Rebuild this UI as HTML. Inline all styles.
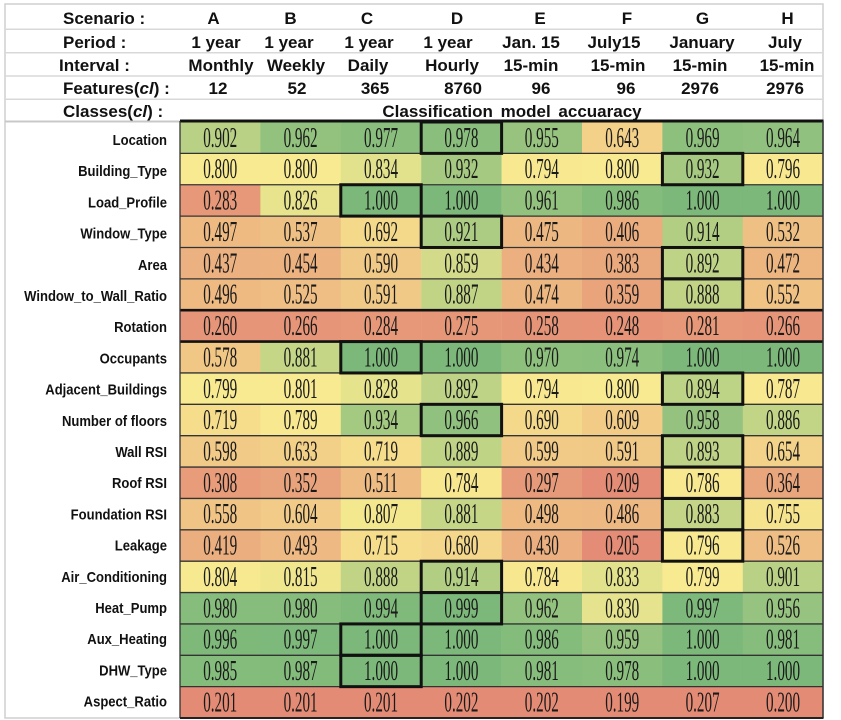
<!DOCTYPE html>
<html><head><meta charset="utf-8"><style>
html,body{margin:0;padding:0;background:#fff;}
svg{display:block}
.h{font:bold 17px "Liberation Sans",sans-serif;fill:#111}
.m{text-anchor:middle}
.l{font:bold 14.5px "Liberation Sans",sans-serif;text-anchor:end;fill:#111}
.n{font:28px "Liberation Serif",serif;text-anchor:middle;fill:#1a1a1a}
</style></head><body>
<svg width="841" height="720" viewBox="0 0 841 720" xmlns="http://www.w3.org/2000/svg">
<rect width="841" height="720" fill="#fff"/>
<!-- frame & header lines -->
<rect x="5" y="4" width="818" height="714" fill="none" stroke="#cfcfcf" stroke-width="1.5"/>
<g stroke="#d8d8d8" stroke-width="1.5">
<line x1="5" y1="29.3" x2="823" y2="29.3"/>
<line x1="5" y1="52.7" x2="823" y2="52.7"/>
<line x1="5" y1="76" x2="823" y2="76"/>
<line x1="5" y1="99.3" x2="823" y2="99.3"/>
</g>
<line x1="5" y1="121.5" x2="180" y2="121.5" stroke="#c8c8c8" stroke-width="2"/>

<!-- header text -->
<text class="h" x="63" y="24">Scenario :</text>
<g class="h m">
<text x="213.5" y="24">A</text><text x="290.5" y="24">B</text><text x="367" y="24">C</text><text x="457" y="24">D</text>
<text x="540" y="24">E</text><text x="627" y="24">F</text><text x="702.5" y="24">G</text><text x="787.5" y="24">H</text>
</g>
<text class="h" x="63" y="48">Period :</text>
<g class="h m">
<text x="216" y="48">1 year</text><text x="289" y="48">1 year</text><text x="369" y="48">1 year</text><text x="448" y="48">1 year</text>
<text x="531" y="48">Jan. 15</text><text x="614" y="48">July15</text><text x="702" y="48">January</text><text x="785" y="48">July</text>
</g>
<text class="h" x="59" y="71">Interval :</text>
<g class="h m">
<text x="221" y="71">Monthly</text><text x="296" y="71">Weekly</text><text x="368" y="71">Daily</text><text x="452" y="71">Hourly</text>
<text x="531" y="71">15-min</text><text x="618" y="71">15-min</text><text x="700" y="71">15-min</text><text x="787" y="71">15-min</text>
</g>
<text class="h" x="63" y="94">Features(<tspan font-style="italic">cl</tspan>) :</text>
<g class="h m">
<text x="218" y="94">12</text><text x="297" y="94">52</text><text x="375" y="94">365</text><text x="463" y="94">8760</text>
<text x="541" y="94">96</text><text x="626" y="94">96</text><text x="700" y="94">2976</text><text x="785" y="94">2976</text>
</g>
<text class="h" x="63" y="117">Classes(<tspan font-style="italic">cl</tspan>) :</text>
<text class="h m" x="512" y="117" word-spacing="3">Classification model accuaracy</text>

<!-- row labels -->
<g class="l">
<text transform="translate(167,145) scale(.9,1)">Location</text>
<text transform="translate(167,176.2) scale(.9,1)">Building_Type</text>
<text transform="translate(167,207.4) scale(.9,1)">Load_Profile</text>
<text transform="translate(167,238.6) scale(.9,1)">Window_Type</text>
<text transform="translate(167,269.8) scale(.9,1)">Area</text>
<text transform="translate(167,301) scale(.9,1)">Window_to_Wall_Ratio</text>
<text transform="translate(167,332.2) scale(.9,1)">Rotation</text>
<text transform="translate(167,363.4) scale(.9,1)">Occupants</text>
<text transform="translate(167,394.6) scale(.9,1)">Adjacent_Buildings</text>
<text transform="translate(167,425.8) scale(.9,1)">Number of floors</text>
<text transform="translate(167,457) scale(.9,1)">Wall RSI</text>
<text transform="translate(167,488.2) scale(.9,1)">Roof RSI</text>
<text transform="translate(167,519.4) scale(.9,1)">Foundation RSI</text>
<text transform="translate(167,550.6) scale(.9,1)">Leakage</text>
<text transform="translate(167,581.8) scale(.9,1)">Air_Conditioning</text>
<text transform="translate(167,613) scale(.9,1)">Heat_Pump</text>
<text transform="translate(167,644.2) scale(.9,1)">Aux_Heating</text>
<text transform="translate(167,675.4) scale(.9,1)">DHW_Type</text>
<text transform="translate(167,706.6) scale(.9,1)">Aspect_Ratio</text>
</g>

<!-- Row 0 Location -->
<g transform="translate(0,122)">
<rect x="180" width="80.6" height="31.6" fill="rgb(184,209,133)"/>
<rect x="260.4" width="80.6" height="31.6" fill="rgb(147,194,126)"/>
<rect x="340.8" width="80.6" height="31.6" fill="rgb(137,190,125)"/>
<rect x="421.2" width="80.6" height="31.6" fill="rgb(137,190,124)"/>
<rect x="501.6" width="80.6" height="31.6" fill="rgb(151,195,127)"/>
<rect x="582" width="80.6" height="31.6" fill="rgb(243,209,137)"/>
<rect x="662.4" width="80.6" height="31.6" fill="rgb(142,192,125)"/>
<rect x="742.8" width="80.4" height="31.6" fill="rgb(145,193,126)"/>
<g class="n">
<text transform="translate(220.2,24.8) scale(.54,1)">0.902</text>
<text transform="translate(300.6,24.8) scale(.54,1)">0.962</text>
<text transform="translate(381,24.8) scale(.54,1)">0.977</text>
<text transform="translate(461.4,24.8) scale(.54,1)">0.978</text>
<text transform="translate(541.8,24.8) scale(.54,1)">0.955</text>
<text transform="translate(622.2,24.8) scale(.54,1)">0.643</text>
<text transform="translate(702.6,24.8) scale(.54,1)">0.969</text>
<text transform="translate(783,24.8) scale(.54,1)">0.964</text>
</g></g>

<!-- Row 1 Building_Type -->
<g transform="translate(0,153.37)">
<rect x="180" width="80.6" height="31.6" fill="rgb(248,234,144)"/>
<rect x="260.4" width="80.6" height="31.6" fill="rgb(248,234,144)"/>
<rect x="340.8" width="80.6" height="31.6" fill="rgb(227,226,140)"/>
<rect x="421.2" width="80.6" height="31.6" fill="rgb(166,201,129)"/>
<rect x="501.6" width="80.6" height="31.6" fill="rgb(248,233,144)"/>
<rect x="582" width="80.6" height="31.6" fill="rgb(248,234,144)"/>
<rect x="662.4" width="80.6" height="31.6" fill="rgb(166,201,129)"/>
<rect x="742.8" width="80.4" height="31.6" fill="rgb(248,233,144)"/>
<g class="n">
<text transform="translate(220.2,24.8) scale(.54,1)">0.800</text>
<text transform="translate(300.6,24.8) scale(.54,1)">0.800</text>
<text transform="translate(381,24.8) scale(.54,1)">0.834</text>
<text transform="translate(461.4,24.8) scale(.54,1)">0.932</text>
<text transform="translate(541.8,24.8) scale(.54,1)">0.794</text>
<text transform="translate(622.2,24.8) scale(.54,1)">0.800</text>
<text transform="translate(702.6,24.8) scale(.54,1)">0.932</text>
<text transform="translate(783,24.8) scale(.54,1)">0.796</text>
</g></g>

<!-- Row 2 Load_Profile -->
<g transform="translate(0,184.74)">
<rect x="180" width="80.6" height="31.6" fill="rgb(231,152,121)"/>
<rect x="260.4" width="80.6" height="31.6" fill="rgb(232,228,141)"/>
<rect x="340.8" width="80.6" height="31.6" fill="rgb(123,184,122)"/>
<rect x="421.2" width="80.6" height="31.6" fill="rgb(123,184,122)"/>
<rect x="501.6" width="80.6" height="31.6" fill="rgb(147,194,126)"/>
<rect x="582" width="80.6" height="31.6" fill="rgb(132,188,124)"/>
<rect x="662.4" width="80.6" height="31.6" fill="rgb(123,184,122)"/>
<rect x="742.8" width="80.4" height="31.6" fill="rgb(123,184,122)"/>
<g class="n">
<text transform="translate(220.2,24.8) scale(.54,1)">0.283</text>
<text transform="translate(300.6,24.8) scale(.54,1)">0.826</text>
<text transform="translate(381,24.8) scale(.54,1)">1.000</text>
<text transform="translate(461.4,24.8) scale(.54,1)">1.000</text>
<text transform="translate(541.8,24.8) scale(.54,1)">0.961</text>
<text transform="translate(622.2,24.8) scale(.54,1)">0.986</text>
<text transform="translate(702.6,24.8) scale(.54,1)">1.000</text>
<text transform="translate(783,24.8) scale(.54,1)">1.000</text>
</g></g>

<!-- Row 3 Window_Type -->
<g transform="translate(0,216.11)">
<rect x="180" width="80.6" height="31.6" fill="rgb(238,186,130)"/>
<rect x="260.4" width="80.6" height="31.6" fill="rgb(239,192,132)"/>
<rect x="340.8" width="80.6" height="31.6" fill="rgb(244,217,139)"/>
<rect x="421.2" width="80.6" height="31.6" fill="rgb(172,204,131)"/>
<rect x="501.6" width="80.6" height="31.6" fill="rgb(237,183,129)"/>
<rect x="582" width="80.6" height="31.6" fill="rgb(235,172,126)"/>
<rect x="662.4" width="80.6" height="31.6" fill="rgb(177,206,131)"/>
<rect x="742.8" width="80.4" height="31.6" fill="rgb(239,192,132)"/>
<g class="n">
<text transform="translate(220.2,24.8) scale(.54,1)">0.497</text>
<text transform="translate(300.6,24.8) scale(.54,1)">0.537</text>
<text transform="translate(381,24.8) scale(.54,1)">0.692</text>
<text transform="translate(461.4,24.8) scale(.54,1)">0.921</text>
<text transform="translate(541.8,24.8) scale(.54,1)">0.475</text>
<text transform="translate(622.2,24.8) scale(.54,1)">0.406</text>
<text transform="translate(702.6,24.8) scale(.54,1)">0.914</text>
<text transform="translate(783,24.8) scale(.54,1)">0.532</text>
</g></g>

<!-- Row 4 Area -->
<g transform="translate(0,247.48)">
<rect x="180" width="80.6" height="31.6" fill="rgb(236,177,128)"/>
<rect x="260.4" width="80.6" height="31.6" fill="rgb(236,179,128)"/>
<rect x="340.8" width="80.6" height="31.6" fill="rgb(241,201,135)"/>
<rect x="421.2" width="80.6" height="31.6" fill="rgb(211,219,138)"/>
<rect x="501.6" width="80.6" height="31.6" fill="rgb(236,176,128)"/>
<rect x="582" width="80.6" height="31.6" fill="rgb(234,168,125)"/>
<rect x="662.4" width="80.6" height="31.6" fill="rgb(190,211,134)"/>
<rect x="742.8" width="80.4" height="31.6" fill="rgb(237,182,129)"/>
<g class="n">
<text transform="translate(220.2,24.8) scale(.54,1)">0.437</text>
<text transform="translate(300.6,24.8) scale(.54,1)">0.454</text>
<text transform="translate(381,24.8) scale(.54,1)">0.590</text>
<text transform="translate(461.4,24.8) scale(.54,1)">0.859</text>
<text transform="translate(541.8,24.8) scale(.54,1)">0.434</text>
<text transform="translate(622.2,24.8) scale(.54,1)">0.383</text>
<text transform="translate(702.6,24.8) scale(.54,1)">0.892</text>
<text transform="translate(783,24.8) scale(.54,1)">0.472</text>
</g></g>

<!-- Row 5 WWR -->
<g transform="translate(0,278.85)">
<rect x="180" width="80.6" height="31.6" fill="rgb(238,186,130)"/>
<rect x="260.4" width="80.6" height="31.6" fill="rgb(239,190,132)"/>
<rect x="340.8" width="80.6" height="31.6" fill="rgb(241,201,135)"/>
<rect x="421.2" width="80.6" height="31.6" fill="rgb(193,212,134)"/>
<rect x="501.6" width="80.6" height="31.6" fill="rgb(237,183,129)"/>
<rect x="582" width="80.6" height="31.6" fill="rgb(233,164,124)"/>
<rect x="662.4" width="80.6" height="31.6" fill="rgb(193,212,134)"/>
<rect x="742.8" width="80.4" height="31.6" fill="rgb(240,195,133)"/>
<g class="n">
<text transform="translate(220.2,24.8) scale(.54,1)">0.496</text>
<text transform="translate(300.6,24.8) scale(.54,1)">0.525</text>
<text transform="translate(381,24.8) scale(.54,1)">0.591</text>
<text transform="translate(461.4,24.8) scale(.54,1)">0.887</text>
<text transform="translate(541.8,24.8) scale(.54,1)">0.474</text>
<text transform="translate(622.2,24.8) scale(.54,1)">0.359</text>
<text transform="translate(702.6,24.8) scale(.54,1)">0.888</text>
<text transform="translate(783,24.8) scale(.54,1)">0.552</text>
</g></g>

<!-- Row 6 Rotation -->
<g transform="translate(0,310.22)">
<rect x="180" width="80.6" height="31.6" fill="rgb(230,149,120)"/>
<rect x="260.4" width="80.6" height="31.6" fill="rgb(230,149,120)"/>
<rect x="340.8" width="80.6" height="31.6" fill="rgb(231,152,121)"/>
<rect x="421.2" width="80.6" height="31.6" fill="rgb(230,151,120)"/>
<rect x="501.6" width="80.6" height="31.6" fill="rgb(230,148,120)"/>
<rect x="582" width="80.6" height="31.6" fill="rgb(230,147,119)"/>
<rect x="662.4" width="80.6" height="31.6" fill="rgb(231,152,121)"/>
<rect x="742.8" width="80.4" height="31.6" fill="rgb(230,149,120)"/>
<g class="n">
<text transform="translate(220.2,24.8) scale(.54,1)">0.260</text>
<text transform="translate(300.6,24.8) scale(.54,1)">0.266</text>
<text transform="translate(381,24.8) scale(.54,1)">0.284</text>
<text transform="translate(461.4,24.8) scale(.54,1)">0.275</text>
<text transform="translate(541.8,24.8) scale(.54,1)">0.258</text>
<text transform="translate(622.2,24.8) scale(.54,1)">0.248</text>
<text transform="translate(702.6,24.8) scale(.54,1)">0.281</text>
<text transform="translate(783,24.8) scale(.54,1)">0.266</text>
</g></g>

<!-- Row 7 Occupants -->
<g transform="translate(0,341.59)">
<rect x="180" width="80.6" height="31.6" fill="rgb(241,199,134)"/>
<rect x="260.4" width="80.6" height="31.6" fill="rgb(197,214,135)"/>
<rect x="340.8" width="80.6" height="31.6" fill="rgb(123,184,122)"/>
<rect x="421.2" width="80.6" height="31.6" fill="rgb(123,184,122)"/>
<rect x="501.6" width="80.6" height="31.6" fill="rgb(142,192,125)"/>
<rect x="582" width="80.6" height="31.6" fill="rgb(139,191,125)"/>
<rect x="662.4" width="80.6" height="31.6" fill="rgb(123,184,122)"/>
<rect x="742.8" width="80.4" height="31.6" fill="rgb(123,184,122)"/>
<g class="n">
<text transform="translate(220.2,24.8) scale(.54,1)">0.578</text>
<text transform="translate(300.6,24.8) scale(.54,1)">0.881</text>
<text transform="translate(381,24.8) scale(.54,1)">1.000</text>
<text transform="translate(461.4,24.8) scale(.54,1)">1.000</text>
<text transform="translate(541.8,24.8) scale(.54,1)">0.970</text>
<text transform="translate(622.2,24.8) scale(.54,1)">0.974</text>
<text transform="translate(702.6,24.8) scale(.54,1)">1.000</text>
<text transform="translate(783,24.8) scale(.54,1)">1.000</text>
</g></g>

<!-- Row 8 Adjacent -->
<g transform="translate(0,372.96)">
<rect x="180" width="80.6" height="31.6" fill="rgb(248,234,144)"/>
<rect x="260.4" width="80.6" height="31.6" fill="rgb(247,234,144)"/>
<rect x="340.8" width="80.6" height="31.6" fill="rgb(230,227,141)"/>
<rect x="421.2" width="80.6" height="31.6" fill="rgb(190,211,134)"/>
<rect x="501.6" width="80.6" height="31.6" fill="rgb(248,233,144)"/>
<rect x="582" width="80.6" height="31.6" fill="rgb(248,234,144)"/>
<rect x="662.4" width="80.6" height="31.6" fill="rgb(189,211,134)"/>
<rect x="742.8" width="80.4" height="31.6" fill="rgb(248,232,143)"/>
<g class="n">
<text transform="translate(220.2,24.8) scale(.54,1)">0.799</text>
<text transform="translate(300.6,24.8) scale(.54,1)">0.801</text>
<text transform="translate(381,24.8) scale(.54,1)">0.828</text>
<text transform="translate(461.4,24.8) scale(.54,1)">0.892</text>
<text transform="translate(541.8,24.8) scale(.54,1)">0.794</text>
<text transform="translate(622.2,24.8) scale(.54,1)">0.800</text>
<text transform="translate(702.6,24.8) scale(.54,1)">0.894</text>
<text transform="translate(783,24.8) scale(.54,1)">0.787</text>
</g></g>

<!-- Row 9 Number of floors -->
<g transform="translate(0,404.33)">
<rect x="180" width="80.6" height="31.6" fill="rgb(245,221,140)"/>
<rect x="260.4" width="80.6" height="31.6" fill="rgb(248,232,143)"/>
<rect x="340.8" width="80.6" height="31.6" fill="rgb(164,201,129)"/>
<rect x="421.2" width="80.6" height="31.6" fill="rgb(144,193,126)"/>
<rect x="501.6" width="80.6" height="31.6" fill="rgb(244,217,139)"/>
<rect x="582" width="80.6" height="31.6" fill="rgb(242,204,135)"/>
<rect x="662.4" width="80.6" height="31.6" fill="rgb(149,195,127)"/>
<rect x="742.8" width="80.4" height="31.6" fill="rgb(194,213,135)"/>
<g class="n">
<text transform="translate(220.2,24.8) scale(.54,1)">0.719</text>
<text transform="translate(300.6,24.8) scale(.54,1)">0.789</text>
<text transform="translate(381,24.8) scale(.54,1)">0.934</text>
<text transform="translate(461.4,24.8) scale(.54,1)">0.966</text>
<text transform="translate(541.8,24.8) scale(.54,1)">0.690</text>
<text transform="translate(622.2,24.8) scale(.54,1)">0.609</text>
<text transform="translate(702.6,24.8) scale(.54,1)">0.958</text>
<text transform="translate(783,24.8) scale(.54,1)">0.886</text>
</g></g>

<!-- Row 10 Wall RSI -->
<g transform="translate(0,435.7)">
<rect x="180" width="80.6" height="31.6" fill="rgb(241,202,135)"/>
<rect x="260.4" width="80.6" height="31.6" fill="rgb(242,208,136)"/>
<rect x="340.8" width="80.6" height="31.6" fill="rgb(245,221,140)"/>
<rect x="421.2" width="80.6" height="31.6" fill="rgb(192,212,134)"/>
<rect x="501.6" width="80.6" height="31.6" fill="rgb(241,202,135)"/>
<rect x="582" width="80.6" height="31.6" fill="rgb(241,201,135)"/>
<rect x="662.4" width="80.6" height="31.6" fill="rgb(190,211,134)"/>
<rect x="742.8" width="80.4" height="31.6" fill="rgb(243,211,137)"/>
<g class="n">
<text transform="translate(220.2,24.8) scale(.54,1)">0.598</text>
<text transform="translate(300.6,24.8) scale(.54,1)">0.633</text>
<text transform="translate(381,24.8) scale(.54,1)">0.719</text>
<text transform="translate(461.4,24.8) scale(.54,1)">0.889</text>
<text transform="translate(541.8,24.8) scale(.54,1)">0.599</text>
<text transform="translate(622.2,24.8) scale(.54,1)">0.591</text>
<text transform="translate(702.6,24.8) scale(.54,1)">0.893</text>
<text transform="translate(783,24.8) scale(.54,1)">0.654</text>
</g></g>

<!-- Row 11 Roof RSI -->
<g transform="translate(0,467.07)">
<rect x="180" width="80.6" height="31.6" fill="rgb(232,156,122)"/>
<rect x="260.4" width="80.6" height="31.6" fill="rgb(233,163,124)"/>
<rect x="340.8" width="80.6" height="31.6" fill="rgb(238,188,131)"/>
<rect x="421.2" width="80.6" height="31.6" fill="rgb(247,231,143)"/>
<rect x="501.6" width="80.6" height="31.6" fill="rgb(231,154,121)"/>
<rect x="582" width="80.6" height="31.6" fill="rgb(228,140,117)"/>
<rect x="662.4" width="80.6" height="31.6" fill="rgb(248,232,143)"/>
<rect x="742.8" width="80.4" height="31.6" fill="rgb(233,165,124)"/>
<g class="n">
<text transform="translate(220.2,24.8) scale(.54,1)">0.308</text>
<text transform="translate(300.6,24.8) scale(.54,1)">0.352</text>
<text transform="translate(381,24.8) scale(.54,1)">0.511</text>
<text transform="translate(461.4,24.8) scale(.54,1)">0.784</text>
<text transform="translate(541.8,24.8) scale(.54,1)">0.297</text>
<text transform="translate(622.2,24.8) scale(.54,1)">0.209</text>
<text transform="translate(702.6,24.8) scale(.54,1)">0.786</text>
<text transform="translate(783,24.8) scale(.54,1)">0.364</text>
</g></g>

<!-- Row 12 Foundation RSI -->
<g transform="translate(0,498.44)">
<rect x="180" width="80.6" height="31.6" fill="rgb(240,196,133)"/>
<rect x="260.4" width="80.6" height="31.6" fill="rgb(241,203,135)"/>
<rect x="340.8" width="80.6" height="31.6" fill="rgb(244,232,143)"/>
<rect x="421.2" width="80.6" height="31.6" fill="rgb(197,214,135)"/>
<rect x="501.6" width="80.6" height="31.6" fill="rgb(238,186,130)"/>
<rect x="582" width="80.6" height="31.6" fill="rgb(238,184,130)"/>
<rect x="662.4" width="80.6" height="31.6" fill="rgb(196,213,135)"/>
<rect x="742.8" width="80.4" height="31.6" fill="rgb(246,227,142)"/>
<g class="n">
<text transform="translate(220.2,24.8) scale(.54,1)">0.558</text>
<text transform="translate(300.6,24.8) scale(.54,1)">0.604</text>
<text transform="translate(381,24.8) scale(.54,1)">0.807</text>
<text transform="translate(461.4,24.8) scale(.54,1)">0.881</text>
<text transform="translate(541.8,24.8) scale(.54,1)">0.498</text>
<text transform="translate(622.2,24.8) scale(.54,1)">0.486</text>
<text transform="translate(702.6,24.8) scale(.54,1)">0.883</text>
<text transform="translate(783,24.8) scale(.54,1)">0.755</text>
</g></g>

<!-- Row 13 Leakage -->
<g transform="translate(0,529.81)">
<rect x="180" width="80.6" height="31.6" fill="rgb(235,174,127)"/>
<rect x="260.4" width="80.6" height="31.6" fill="rgb(238,185,130)"/>
<rect x="340.8" width="80.6" height="31.6" fill="rgb(245,221,140)"/>
<rect x="421.2" width="80.6" height="31.6" fill="rgb(244,215,139)"/>
<rect x="501.6" width="80.6" height="31.6" fill="rgb(236,175,127)"/>
<rect x="582" width="80.6" height="31.6" fill="rgb(228,140,117)"/>
<rect x="662.4" width="80.6" height="31.6" fill="rgb(248,233,144)"/>
<rect x="742.8" width="80.4" height="31.6" fill="rgb(239,190,132)"/>
<g class="n">
<text transform="translate(220.2,24.8) scale(.54,1)">0.419</text>
<text transform="translate(300.6,24.8) scale(.54,1)">0.493</text>
<text transform="translate(381,24.8) scale(.54,1)">0.715</text>
<text transform="translate(461.4,24.8) scale(.54,1)">0.680</text>
<text transform="translate(541.8,24.8) scale(.54,1)">0.430</text>
<text transform="translate(622.2,24.8) scale(.54,1)">0.205</text>
<text transform="translate(702.6,24.8) scale(.54,1)">0.796</text>
<text transform="translate(783,24.8) scale(.54,1)">0.526</text>
</g></g>

<!-- Row 14 Air_Conditioning -->
<g transform="translate(0,561.18)">
<rect x="180" width="80.6" height="31.6" fill="rgb(246,233,144)"/>
<rect x="260.4" width="80.6" height="31.6" fill="rgb(239,230,142)"/>
<rect x="340.8" width="80.6" height="31.6" fill="rgb(193,212,134)"/>
<rect x="421.2" width="80.6" height="31.6" fill="rgb(177,206,131)"/>
<rect x="501.6" width="80.6" height="31.6" fill="rgb(247,231,143)"/>
<rect x="582" width="80.6" height="31.6" fill="rgb(227,226,140)"/>
<rect x="662.4" width="80.6" height="31.6" fill="rgb(248,234,144)"/>
<rect x="742.8" width="80.4" height="31.6" fill="rgb(185,209,133)"/>
<g class="n">
<text transform="translate(220.2,24.8) scale(.54,1)">0.804</text>
<text transform="translate(300.6,24.8) scale(.54,1)">0.815</text>
<text transform="translate(381,24.8) scale(.54,1)">0.888</text>
<text transform="translate(461.4,24.8) scale(.54,1)">0.914</text>
<text transform="translate(541.8,24.8) scale(.54,1)">0.784</text>
<text transform="translate(622.2,24.8) scale(.54,1)">0.833</text>
<text transform="translate(702.6,24.8) scale(.54,1)">0.799</text>
<text transform="translate(783,24.8) scale(.54,1)">0.901</text>
</g></g>

<!-- Row 15 Heat_Pump -->
<g transform="translate(0,592.55)">
<rect x="180" width="80.6" height="31.6" fill="rgb(135,189,124)"/>
<rect x="260.4" width="80.6" height="31.6" fill="rgb(135,189,124)"/>
<rect x="340.8" width="80.6" height="31.6" fill="rgb(127,186,123)"/>
<rect x="421.2" width="80.6" height="31.6" fill="rgb(124,184,122)"/>
<rect x="501.6" width="80.6" height="31.6" fill="rgb(147,194,126)"/>
<rect x="582" width="80.6" height="31.6" fill="rgb(229,227,141)"/>
<rect x="662.4" width="80.6" height="31.6" fill="rgb(125,185,122)"/>
<rect x="742.8" width="80.4" height="31.6" fill="rgb(150,195,127)"/>
<g class="n">
<text transform="translate(220.2,24.8) scale(.54,1)">0.980</text>
<text transform="translate(300.6,24.8) scale(.54,1)">0.980</text>
<text transform="translate(381,24.8) scale(.54,1)">0.994</text>
<text transform="translate(461.4,24.8) scale(.54,1)">0.999</text>
<text transform="translate(541.8,24.8) scale(.54,1)">0.962</text>
<text transform="translate(622.2,24.8) scale(.54,1)">0.830</text>
<text transform="translate(702.6,24.8) scale(.54,1)">0.997</text>
<text transform="translate(783,24.8) scale(.54,1)">0.956</text>
</g></g>

<!-- Row 16 Aux_Heating -->
<g transform="translate(0,623.92)">
<rect x="180" width="80.6" height="31.6" fill="rgb(126,185,122)"/>
<rect x="260.4" width="80.6" height="31.6" fill="rgb(125,185,122)"/>
<rect x="340.8" width="80.6" height="31.6" fill="rgb(123,184,122)"/>
<rect x="421.2" width="80.6" height="31.6" fill="rgb(123,184,122)"/>
<rect x="501.6" width="80.6" height="31.6" fill="rgb(132,188,124)"/>
<rect x="582" width="80.6" height="31.6" fill="rgb(149,194,127)"/>
<rect x="662.4" width="80.6" height="31.6" fill="rgb(123,184,122)"/>
<rect x="742.8" width="80.4" height="31.6" fill="rgb(135,189,124)"/>
<g class="n">
<text transform="translate(220.2,24.8) scale(.54,1)">0.996</text>
<text transform="translate(300.6,24.8) scale(.54,1)">0.997</text>
<text transform="translate(381,24.8) scale(.54,1)">1.000</text>
<text transform="translate(461.4,24.8) scale(.54,1)">1.000</text>
<text transform="translate(541.8,24.8) scale(.54,1)">0.986</text>
<text transform="translate(622.2,24.8) scale(.54,1)">0.959</text>
<text transform="translate(702.6,24.8) scale(.54,1)">1.000</text>
<text transform="translate(783,24.8) scale(.54,1)">0.981</text>
</g></g>

<!-- Row 17 DHW_Type -->
<g transform="translate(0,655.29)">
<rect x="180" width="80.6" height="31.6" fill="rgb(132,188,124)"/>
<rect x="260.4" width="80.6" height="31.6" fill="rgb(131,187,123)"/>
<rect x="340.8" width="80.6" height="31.6" fill="rgb(123,184,122)"/>
<rect x="421.2" width="80.6" height="31.6" fill="rgb(123,184,122)"/>
<rect x="501.6" width="80.6" height="31.6" fill="rgb(135,189,124)"/>
<rect x="582" width="80.6" height="31.6" fill="rgb(137,190,124)"/>
<rect x="662.4" width="80.6" height="31.6" fill="rgb(123,184,122)"/>
<rect x="742.8" width="80.4" height="31.6" fill="rgb(123,184,122)"/>
<g class="n">
<text transform="translate(220.2,24.8) scale(.54,1)">0.985</text>
<text transform="translate(300.6,24.8) scale(.54,1)">0.987</text>
<text transform="translate(381,24.8) scale(.54,1)">1.000</text>
<text transform="translate(461.4,24.8) scale(.54,1)">1.000</text>
<text transform="translate(541.8,24.8) scale(.54,1)">0.981</text>
<text transform="translate(622.2,24.8) scale(.54,1)">0.978</text>
<text transform="translate(702.6,24.8) scale(.54,1)">1.000</text>
<text transform="translate(783,24.8) scale(.54,1)">1.000</text>
</g></g>

<!-- Row 18 Aspect_Ratio -->
<g transform="translate(0,686.66)">
<rect x="180" width="643.2" height="31.4" fill="rgb(228,139,117)"/>
<g class="n">
<text transform="translate(220.2,24.8) scale(.54,1)">0.201</text>
<text transform="translate(300.6,24.8) scale(.54,1)">0.201</text>
<text transform="translate(381,24.8) scale(.54,1)">0.201</text>
<text transform="translate(461.4,24.8) scale(.54,1)">0.202</text>
<text transform="translate(541.8,24.8) scale(.54,1)">0.202</text>
<text transform="translate(622.2,24.8) scale(.54,1)">0.199</text>
<text transform="translate(702.6,24.8) scale(.54,1)">0.207</text>
<text transform="translate(783,24.8) scale(.54,1)">0.200</text>
</g></g>

<!-- row separators -->
<g stroke="#333" stroke-width="1.3">
<line x1="180" y1="153.37" x2="823.2" y2="153.37"/>
<line x1="180" y1="184.74" x2="823.2" y2="184.74"/>
<line x1="180" y1="216.11" x2="823.2" y2="216.11"/>
<line x1="180" y1="247.48" x2="823.2" y2="247.48"/>
<line x1="180" y1="278.85" x2="823.2" y2="278.85"/>
<line x1="180" y1="372.96" x2="823.2" y2="372.96"/>
<line x1="180" y1="404.33" x2="823.2" y2="404.33"/>
<line x1="180" y1="435.7" x2="823.2" y2="435.7"/>
<line x1="180" y1="467.07" x2="823.2" y2="467.07"/>
<line x1="180" y1="498.44" x2="823.2" y2="498.44"/>
<line x1="180" y1="529.81" x2="823.2" y2="529.81"/>
<line x1="180" y1="561.18" x2="823.2" y2="561.18"/>
<line x1="180" y1="592.55" x2="823.2" y2="592.55"/>
<line x1="180" y1="623.92" x2="823.2" y2="623.92"/>
<line x1="180" y1="655.29" x2="823.2" y2="655.29"/>
<line x1="180" y1="686.66" x2="823.2" y2="686.66"/>
</g>
<!-- Rotation row thick borders -->
<g stroke="#111" stroke-width="2.6">
<line x1="180" y1="310.22" x2="823.2" y2="310.22"/>
<line x1="180" y1="341.59" x2="823.2" y2="341.59"/>
</g>
<!-- grid outline -->
<line x1="180" y1="121" x2="823.5" y2="121" stroke="#111" stroke-width="3"/>
<line x1="180" y1="121" x2="180" y2="718" stroke="#333" stroke-width="1.3"/>
<line x1="823" y1="121" x2="823" y2="718" stroke="#333" stroke-width="1.5"/>
<line x1="180" y1="718" x2="823.5" y2="718" stroke="#222" stroke-width="2"/>

<!-- highlighted cells -->
<g fill="none" stroke="#111" stroke-width="3">
<rect x="421.2" y="122" width="80.4" height="31.37"/>
<rect x="662.4" y="153.37" width="80.4" height="31.37"/>
<rect x="340.8" y="184.74" width="80.4" height="31.37"/>
<rect x="421.2" y="216.11" width="80.4" height="31.37"/>
<rect x="662.4" y="247.48" width="80.4" height="31.37"/>
<rect x="662.4" y="278.85" width="80.4" height="31.37"/>
<rect x="340.8" y="341.59" width="80.4" height="31.37"/>
<rect x="662.4" y="372.96" width="80.4" height="31.37"/>
<rect x="421.2" y="404.33" width="80.4" height="31.37"/>
<rect x="662.4" y="435.7" width="80.4" height="31.37"/>
<rect x="662.4" y="467.07" width="80.4" height="31.37"/>
<rect x="662.4" y="498.44" width="80.4" height="31.37"/>
<rect x="662.4" y="529.81" width="80.4" height="31.37"/>
<rect x="421.2" y="561.18" width="80.4" height="31.37"/>
<rect x="421.2" y="592.55" width="80.4" height="31.37"/>
<rect x="340.8" y="623.92" width="80.4" height="31.37"/>
<rect x="340.8" y="655.29" width="80.4" height="31.37"/>
</g>
</svg>
</body></html>
